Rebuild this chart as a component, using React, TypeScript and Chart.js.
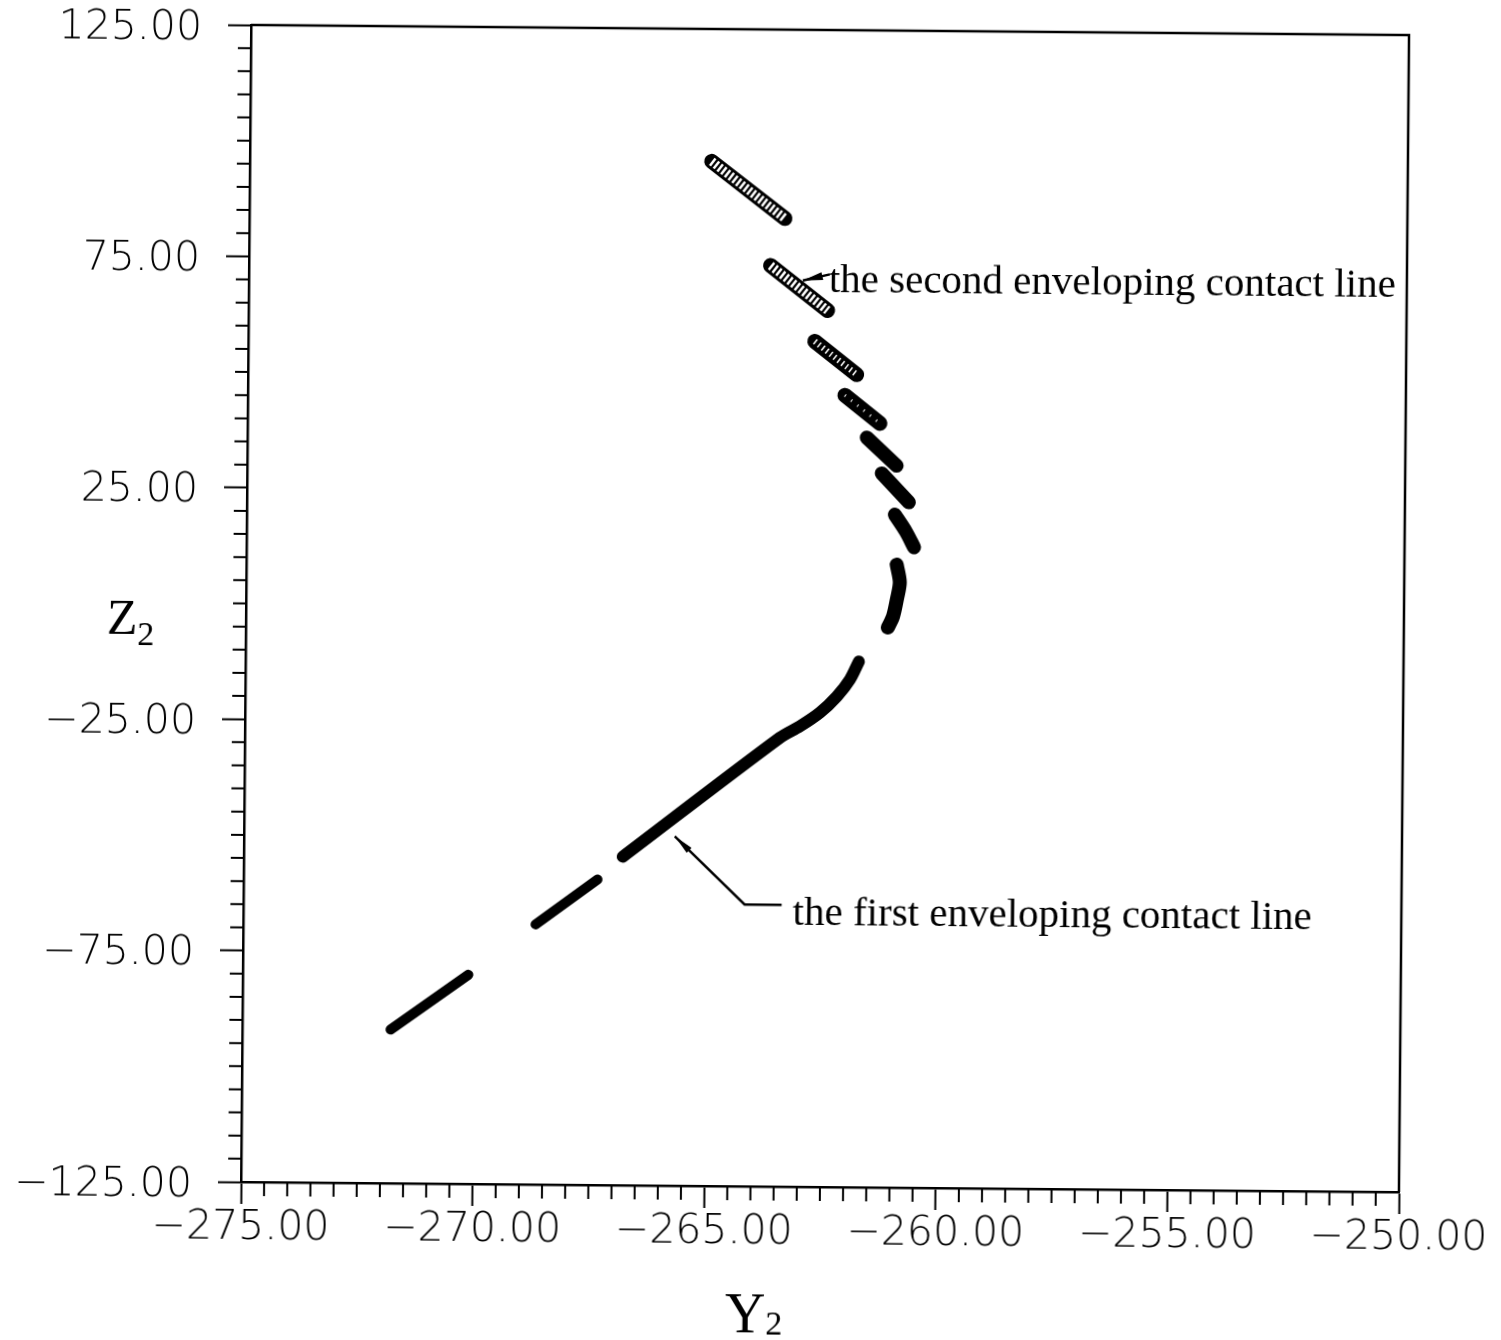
import React, { useEffect, useRef } from 'react';
import { Chart, registerables } from 'chart.js';

Chart.register(...registerables);

// ---- axis ranges / ticks ----
const Y2_MIN = -275;
const Y2_MAX = -250;
const Z2_MIN = -125;
const Z2_MAX = 125;
const Y2_MAJOR = 5;
const Y2_MINOR = 0.5;
const Z2_MAJOR = 50;
const Z2_MINOR = 5;

// ---- the second enveloping contact line (hollow circle markers) [Y2, Z2] ----
const secondSeg1: number[][] = [[-265.03, 96.4], [-263.44, 84.2]];
const secondSeg2: number[][] = [[-263.74, 74.0], [-262.50, 64.4]];
const secondSeg3: number[][] = [[-262.77, 57.7], [-261.86, 50.6]];
const secondSeg4: number[][] = [[-262.11, 46.1], [-261.35, 40.1]];
const secondSeg5: number[][] = [[-261.63, 37.0], [-260.98, 31.0]];
const secondSeg6: number[][] = [[-261.30, 29.3], [-260.71, 23.1]];
const secondSeg7: number[][] = [[-261.01, 20.4], [-260.77, 16.8], [-260.59, 13.4]];

// ---- the first enveloping contact line [Y2, Z2] ----
const firstSegA: number[][] = [[-260.96, 9.6], [-260.89, 5.8], [-260.95, 2.1], [-261.03, -1.6], [-261.14, -4.0]];
const firstSegB: number[][] = [
  [-261.76, -11.4], [-261.95, -15.3], [-262.23, -19.0], [-262.59, -22.5],
  [-263.02, -25.5], [-263.45, -28.0], [-266.82, -54.0],
];
const firstSegC: number[][] = [[-267.36, -59.0], [-268.69, -68.8]];
const firstSegD: number[][] = [[-270.13, -79.8], [-271.80, -91.8]];

// ---- annotations (data coordinates) ----
const NOTE_SECOND = 'the second enveloping contact line';
const NOTE_SECOND_AT: number[] = [-262.48, 68.3];
const ARROW_SECOND: number[][] = [[-262.46, 72.2], [-263.04, 70.8]];
const NOTE_FIRST = 'the first enveloping contact line';
const NOTE_FIRST_AT: number[] = [-263.14, -68.3];
const ARROW_FIRST: number[][] = [[-263.38, -64.1], [-264.18, -64.1], [-265.70, -49.5]];

const SERIF = '"Liberation Serif", "Times New Roman", serif';
const SANS = '"DejaVu Sans", sans-serif';

const fmt = (v: number) => v.toFixed(2).replace('-', '\u2212');
const toPts = (arr: number[][]) => arr.map(([x, y]) => ({ x, y }));

function seg(arr: number[][], width: number, tension = 0) {
  return {
    data: toPts(arr),
    showLine: true,
    borderColor: '#000',
    backgroundColor: '#000',
    borderWidth: width,
    borderCapStyle: 'round' as const,
    borderJoinStyle: 'round' as const,
    pointRadius: 0,
    tension,
    order: 2,
  };
}

function hatch(arr: number[][], width: number, dash: number[]) {
  return {
    data: toPts(arr),
    showLine: true,
    borderColor: '#fff',
    backgroundColor: '#fff',
    borderWidth: width,
    borderDash: dash,
    borderCapStyle: 'butt' as const,
    pointRadius: 0,
    order: 1,
  };
}

function arrowHead(ctx: CanvasRenderingContext2D, fx: number, fy: number, tx: number, ty: number, len: number, hw: number) {
  const ang = Math.atan2(ty - fy, tx - fx);
  const bx = tx - len * Math.cos(ang);
  const by = ty - len * Math.sin(ang);
  const nx = -Math.sin(ang) * hw;
  const ny = Math.cos(ang) * hw;
  ctx.beginPath();
  ctx.moveTo(tx, ty);
  ctx.lineTo(bx + nx, by + ny);
  ctx.lineTo(bx - nx, by - ny);
  ctx.closePath();
  ctx.fill();
}

const framePlugin = {
  id: 'frameAndNotes',
  afterDraw(chart: any) {
    const { ctx, chartArea: a, scales } = chart;
    const xs = scales.x;
    const ys = scales.y;
    ctx.save();
    ctx.strokeStyle = '#000';
    ctx.fillStyle = '#000';
    // top and right frame
    ctx.lineWidth = 2.5;
    ctx.beginPath();
    ctx.moveTo(a.left, a.top);
    ctx.lineTo(a.right, a.top);
    ctx.lineTo(a.right, a.bottom);
    ctx.stroke();
    // minor ticks
    ctx.lineWidth = 2;
    ctx.beginPath();
    const nx = Math.round((Y2_MAX - Y2_MIN) / Y2_MINOR);
    const perX = Math.round(Y2_MAJOR / Y2_MINOR);
    for (let i = 0; i <= nx; i++) {
      if (i % perX === 0) continue;
      const px = xs.getPixelForValue(Y2_MIN + i * Y2_MINOR);
      ctx.moveTo(px, a.bottom);
      ctx.lineTo(px, a.bottom + 14);
    }
    const nz = Math.round((Z2_MAX - Z2_MIN) / Z2_MINOR);
    const perZ = Math.round(Z2_MAJOR / Z2_MINOR);
    for (let i = 0; i <= nz; i++) {
      if (i % perZ === 0) continue;
      const py = ys.getPixelForValue(Z2_MIN + i * Z2_MINOR);
      ctx.moveTo(a.left, py);
      ctx.lineTo(a.left - 13, py);
    }
    ctx.stroke();

    // annotations
    ctx.font = `41px ${SERIF}`;
    ctx.textBaseline = 'alphabetic';
    ctx.textAlign = 'left';
    ctx.fillText(NOTE_SECOND, xs.getPixelForValue(NOTE_SECOND_AT[0]), ys.getPixelForValue(NOTE_SECOND_AT[1]));
    ctx.fillText(NOTE_FIRST, xs.getPixelForValue(NOTE_FIRST_AT[0]), ys.getPixelForValue(NOTE_FIRST_AT[1]));

    ctx.lineWidth = 2.5;
    const a2 = ARROW_SECOND.map(([x, y]) => [xs.getPixelForValue(x), ys.getPixelForValue(y)]);
    ctx.beginPath();
    ctx.moveTo(a2[0][0], a2[0][1]);
    ctx.lineTo(a2[1][0], a2[1][1]);
    ctx.stroke();
    arrowHead(ctx, a2[0][0], a2[0][1], a2[1][0], a2[1][1], 20, 4);

    const a1 = ARROW_FIRST.map(([x, y]) => [xs.getPixelForValue(x), ys.getPixelForValue(y)]);
    ctx.beginPath();
    ctx.moveTo(a1[0][0], a1[0][1]);
    for (let i = 1; i < a1.length; i++) ctx.lineTo(a1[i][0], a1[i][1]);
    ctx.stroke();
    const n = a1.length;
    arrowHead(ctx, a1[n - 2][0], a1[n - 2][1], a1[n - 1][0], a1[n - 1][1], 20, 3.5);

    // axis titles with subscripts
    ctx.font = `50px ${SERIF}`;
    ctx.fillText('Z', 107, 640);
    const zw = ctx.measureText('Z').width;
    ctx.font = `34px ${SERIF}`;
    ctx.fillText('2', 107 + zw, 651);
    ctx.font = `56px ${SERIF}`;
    ctx.fillText('Y', 731, 1333);
    const yw = ctx.measureText('Y').width;
    ctx.font = `34px ${SERIF}`;
    ctx.fillText('2', 731 + yw, 1335);
    ctx.restore();
  },
};

export default function App() {
  const ref = useRef<HTMLCanvasElement | null>(null);
  useEffect(() => {
    if (!ref.current) return;
    const chart = new Chart(ref.current, {
      type: 'scatter',
      data: {
        datasets: [
          seg(secondSeg1, 15), hatch(secondSeg1, 9, [2.5, 2.2]),
          seg(secondSeg2, 15), hatch(secondSeg2, 9, [2.5, 2.2]),
          seg(secondSeg3, 15), hatch(secondSeg3, 6, [1.5, 3.5]),
          seg(secondSeg4, 15), hatch(secondSeg4, 3, [1, 7]),
          seg(secondSeg5, 14),
          seg(secondSeg6, 14),
          seg(secondSeg7, 14, 0.3),
          seg(firstSegA, 14, 0.3),
          seg(firstSegB, 12, 0.3),
          seg(firstSegC, 10),
          seg(firstSegD, 10),
        ] as any,
      },
      options: {
        responsive: false,
        animation: false,
        events: [],
        layout: { padding: { left: 0, top: 30, right: 97, bottom: 0 } },
        plugins: { legend: { display: false }, tooltip: { enabled: false }, title: { display: false } },
        scales: {
          x: {
            type: 'linear',
            min: Y2_MIN,
            max: Y2_MAX,
            afterFit: (s: any) => { s.height = 153; },
            border: { display: true, color: '#000', width: 2.5 },
            grid: { drawOnChartArea: false, drawTicks: true, tickLength: 22, tickColor: '#000', tickWidth: 2 },
            ticks: {
              stepSize: Y2_MAJOR,
              autoSkip: false,
              maxRotation: 0,
              padding: 0,
              color: '#000',
              font: { family: SANS, size: 41, weight: '200' as any },
              callback: (v: any) => fmt(Number(v)),
            },
          },
          y: {
            type: 'linear',
            min: Z2_MIN,
            max: Z2_MAX,
            afterFit: (s: any) => { s.width = 246; s.paddingTop = 0; s.paddingBottom = 0; },
            border: { display: true, color: '#000', width: 2.5 },
            grid: { drawOnChartArea: false, drawTicks: true, tickLength: 23, tickColor: '#000', tickWidth: 2 },
            ticks: {
              stepSize: Z2_MAJOR,
              autoSkip: false,
              padding: 26,
              labelOffset: 4,
              color: '#000',
              font: { family: SANS, size: 41, weight: '200' as any },
              callback: (v: any) => fmt(Number(v)),
            },
          },
        },
      } as any,
      plugins: [framePlugin],
    });
    return () => chart.destroy();
  }, []);

  return (
    <div
      style={{
        position: 'absolute',
        left: 0,
        top: 0,
        width: 1501,
        height: 1340,
        background: '#fff',
        transform: 'rotate(0.5deg)',
        transformOrigin: '825px 609px',
      }}
    >
      <canvas ref={ref} width={1501} height={1340} style={{ display: 'block', width: 1501, height: 1340 }} />
    </div>
  );
}
